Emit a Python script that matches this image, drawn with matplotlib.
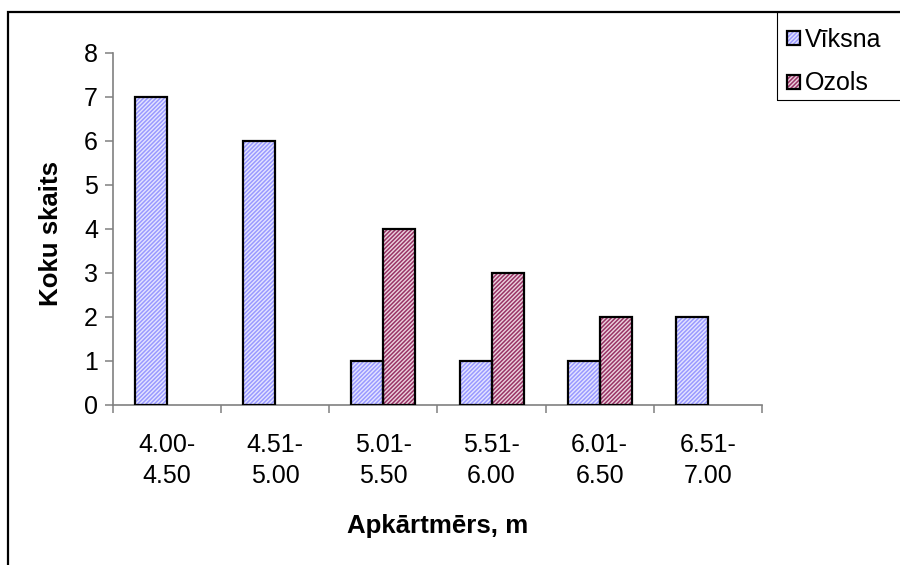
import matplotlib
matplotlib.use("Agg")
import matplotlib.pyplot as plt
from matplotlib.patches import Patch, Rectangle
from matplotlib.legend_handler import HandlerTuple
import numpy as np

plt.rcParams['font.family'] = ['Liberation Sans', 'DejaVu Sans']
plt.rcParams['hatch.linewidth'] = 1.1

# Data
categories = ["4.00-\n4.50", "4.51-\n5.00", "5.01-\n5.50", "5.51-\n6.00", "6.01-\n6.50", "6.51-\n7.00"]
viksna = [7, 6, 1, 1, 1, 2]
ozols = [0, 0, 4, 3, 2, 0]
series_names = ["Vīksna", "Ozols"]
y_ticks = [0, 1, 2, 3, 4, 5, 6, 7, 8]

W, H = 900, 565
fig = plt.figure(figsize=(W / 100, H / 100), dpi=100)
ax = fig.add_axes([113 / W, 1 - 405 / H, (762 - 113) / W, (405 - 53) / H])

bar_w = 0.296
x = np.arange(len(categories))
# (background tint, hatch colour, offset from category centre)
styles = [("#E4E4FF", "#9999FF", -bar_w / 2), ("#EBD2DE", "#993366", bar_w / 2)]
HATCH = "////////"

for vals, (bg, hcol, off) in zip([viksna, ozols], styles):
    vals = np.asarray(vals, dtype=float)
    keep = vals > 0
    xs = x[keep] + off
    ax.bar(xs, vals[keep], width=bar_w, facecolor=bg, edgecolor=hcol,
           hatch=HATCH, linewidth=0, zorder=2)
    ax.bar(xs, vals[keep], width=bar_w, fill=False, edgecolor="black",
           linewidth=1.6, zorder=3)

ax.set_xlim(-0.5, len(categories) - 0.5)
ax.set_ylim(0, 8)

grey = "#808080"
for s in ("top", "right"):
    ax.spines[s].set_visible(False)
for s in ("left", "bottom"):
    ax.spines[s].set_color(grey)
    ax.spines[s].set_linewidth(1.2)
    ax.spines[s].set_zorder(1)

ax.set_yticks(y_ticks)
ax.set_yticklabels([str(v) for v in y_ticks])
ax.tick_params(axis="y", direction="out", length=5.8, width=1.1, color=grey,
               pad=5, labelsize=18)

ax.set_xticks(x)
ax.set_xticklabels(categories)
ax.set_xticks(np.arange(len(categories) + 1) - 0.5, minor=True)
ax.tick_params(axis="x", which="major", length=0, pad=20.5, labelsize=18)
ax.tick_params(axis="x", which="minor", direction="out", length=5.8,
               width=1.1, color=grey)
for t in ax.get_xticklabels():
    t.set_linespacing(1.35)

ax.set_xlabel("Apkārtmērs, m", fontsize=18.6, fontweight="bold", va="center")
ax.xaxis.set_label_coords((438 - 113) / 649, (405 - 526) / 352)
ax.set_ylabel("Koku skaits", fontsize=18.6, fontweight="bold", va="center")
ax.yaxis.set_label_coords((51 - 113) / 649, (405 - 234) / 352)

# Legend
handles = []
for bg, hcol, _ in styles:
    handles.append((Patch(facecolor=bg, edgecolor=hcol, hatch=HATCH, linewidth=0),
                    Patch(fill=False, edgecolor="black", linewidth=1.6)))
fig.legend(handles, series_names, loc="upper left",
           bbox_to_anchor=(787 / W, 1 - 28 / H), frameon=False,
           borderpad=0, borderaxespad=0, fontsize=18,
           handlelength=0.52, handleheight=0.48, handletextpad=0.18,
           labelspacing=0.78, handler_map={tuple: HandlerTuple(ndivide=1, pad=0)})

# Legend frame and chart border
fig.add_artist(Rectangle((777 / W, 1 - 100 / H), 0.5, 88 / H, transform=fig.transFigure,
                         fill=False, edgecolor="black", linewidth=0.8))
fig.add_artist(Rectangle((8 / W, -0.5), 1.5, 1.5 - 12 / H, transform=fig.transFigure,
                         fill=False, edgecolor="black", linewidth=1.6))

fig.savefig("out.png", dpi=100)
